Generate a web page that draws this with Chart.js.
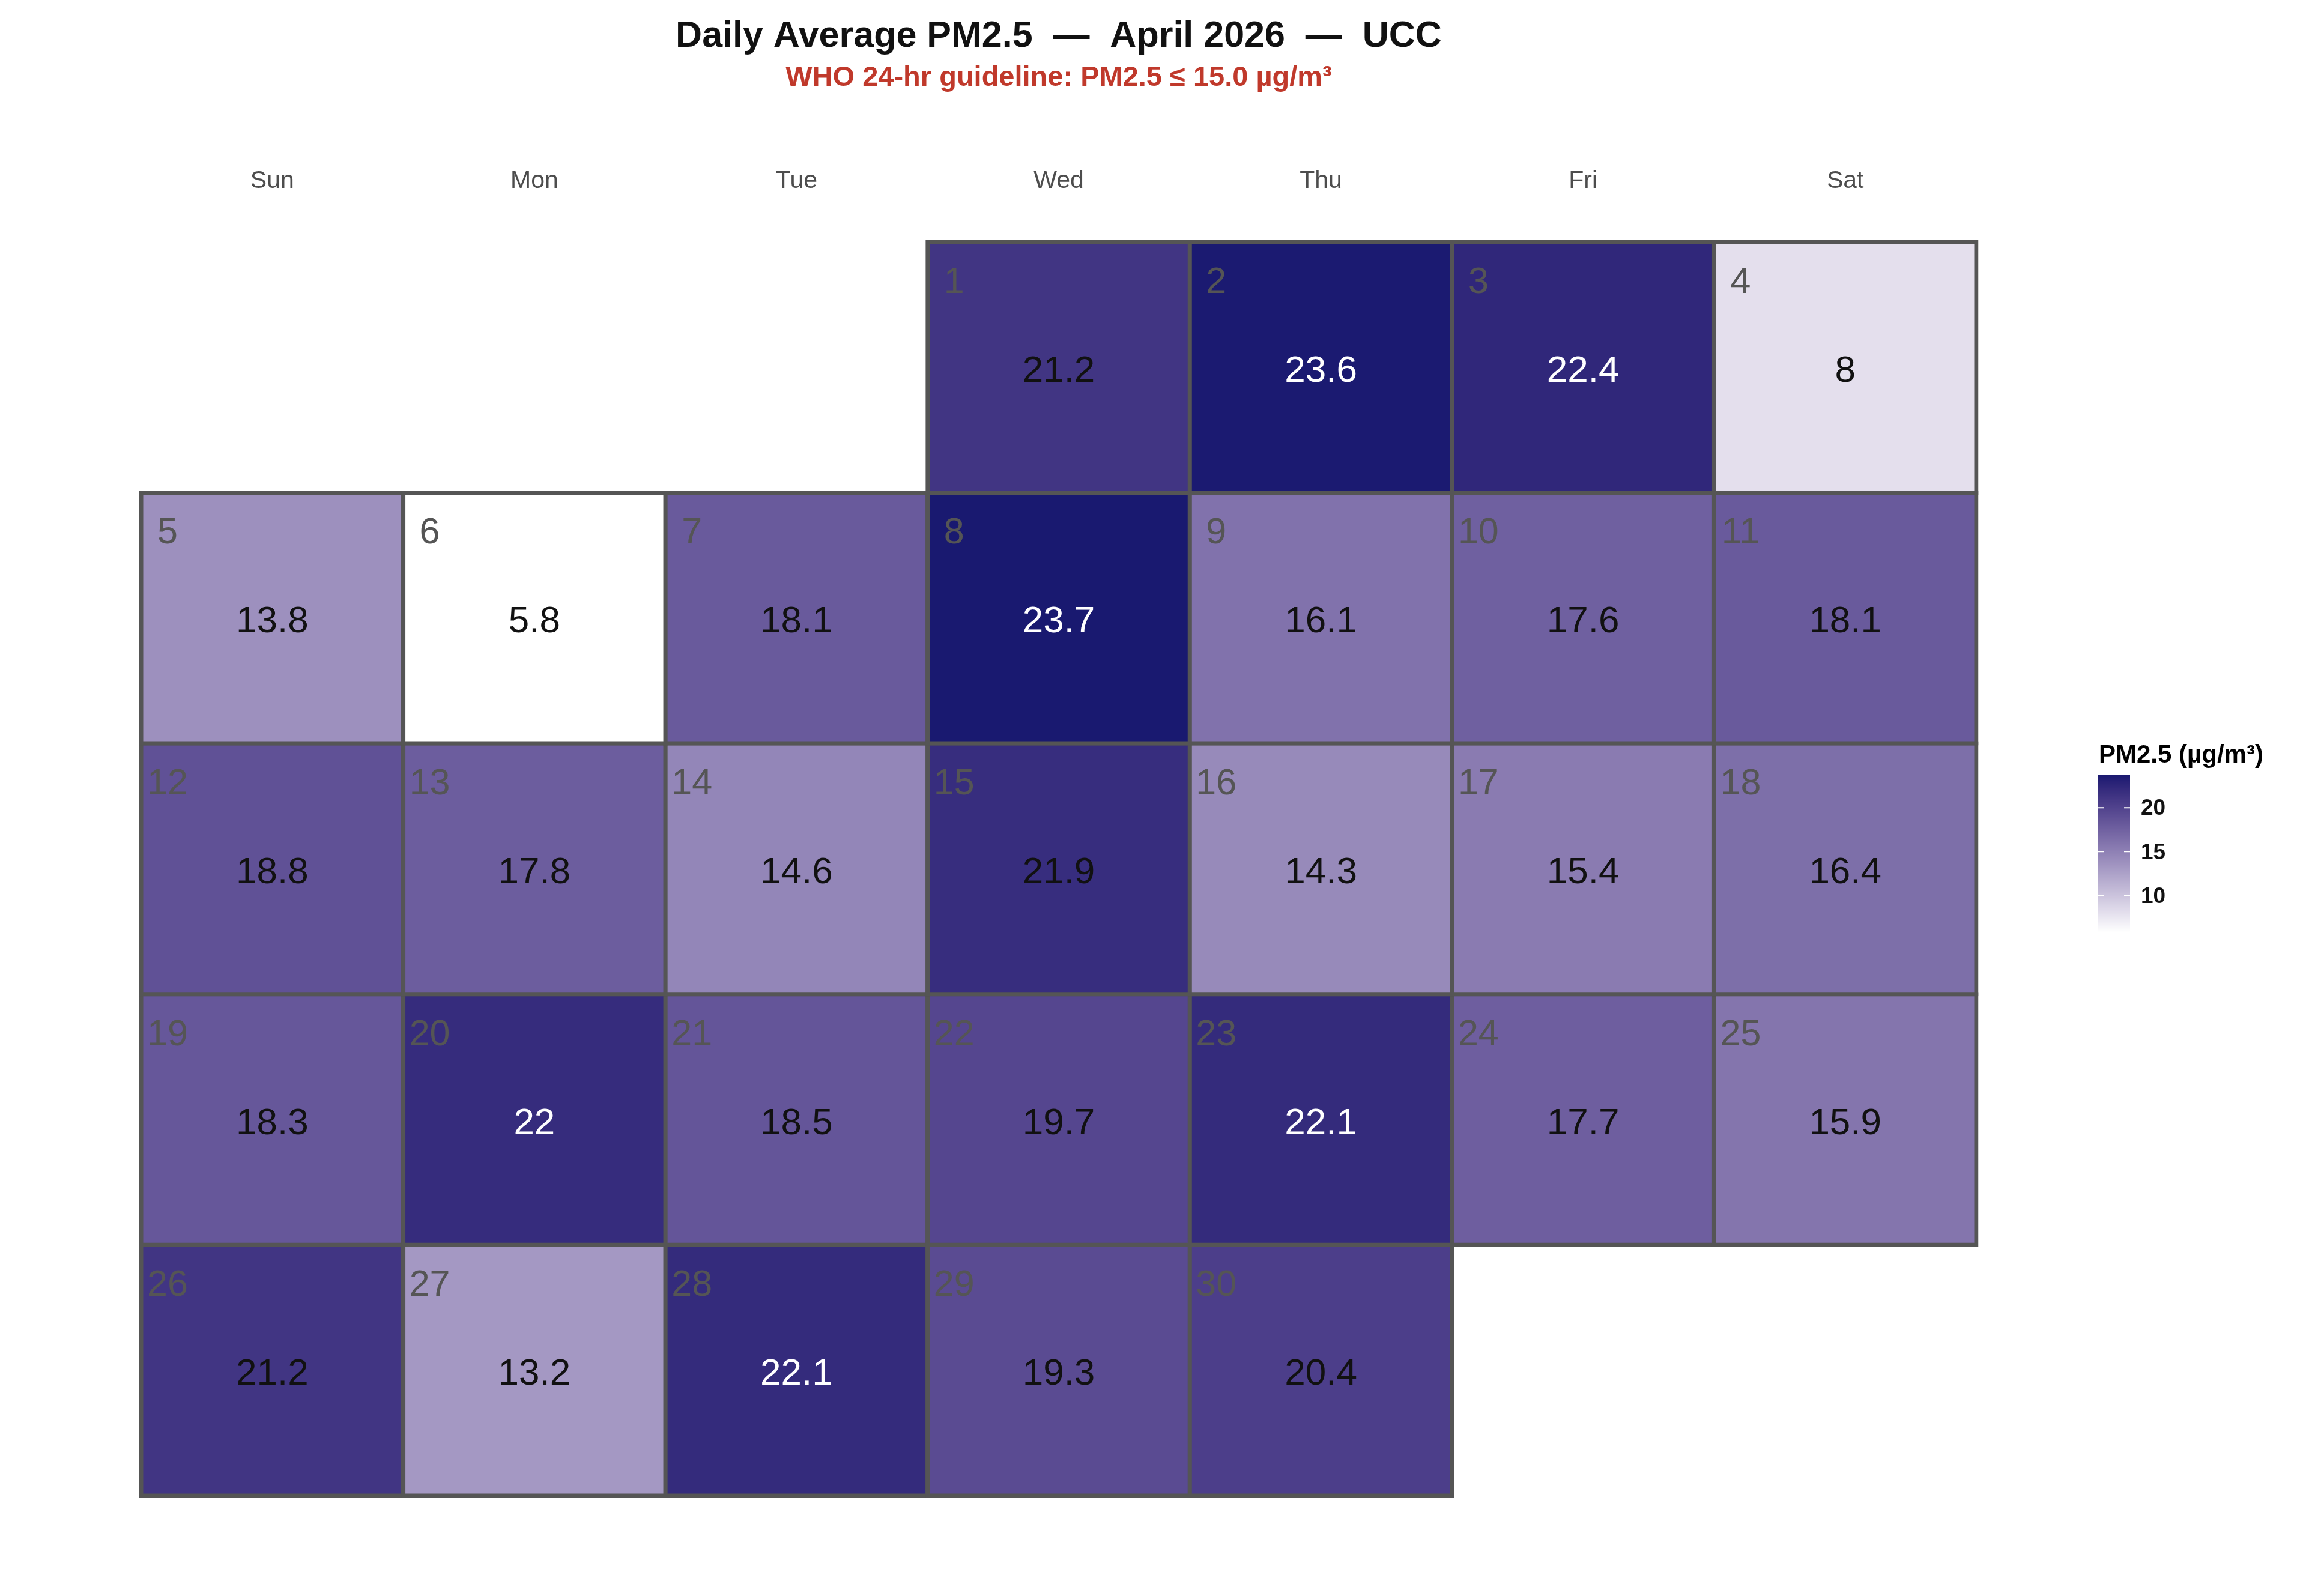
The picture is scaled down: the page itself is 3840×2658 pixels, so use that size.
<!DOCTYPE html>
<html>
<head>
<meta charset="utf-8">
<title>Daily Average PM2.5 - April 2026 - UCC</title>
<script src="https://cdn.jsdelivr.net/npm/chart.js@4.4.1/dist/chart.umd.min.js"></script>
<style>
  html, body { margin: 0; padding: 0; background: #ffffff; }
  canvas { display: block; }
</style>
</head>
<body>
<canvas id="calendar" width="3840" height="2658" style="width:3840px;height:2658px"></canvas>
<script>
// ---- data ----
const weekdays = ['Sun', 'Mon', 'Tue', 'Wed', 'Thu', 'Fri', 'Sat'];
const days = [1, 2, 3, 4, 5, 6, 7, 8, 9, 10, 11, 12, 13, 14, 15,
              16, 17, 18, 19, 20, 21, 22, 23, 24, 25, 26, 27, 28, 29, 30];
const pm25 = [21.2, 23.6, 22.4, 8, 13.8, 5.8, 18.1, 23.7, 16.1, 17.6,
              18.1, 18.8, 17.8, 14.6, 21.9, 14.3, 15.4, 16.4, 18.3, 22,
              18.5, 19.7, 22.1, 17.7, 15.9, 21.2, 13.2, 22.1, 19.3, 20.4];
const legendTicks = [10, 15, 20];

const year = 2026;
const month = 3; // April (0-based)
const firstWeekday = new Date(year, month, 1).getDay();

const lowColor = '#ffffff';
const highColor = '#191970';
const minVal = Math.min(...pm25);
const maxVal = Math.max(...pm25);

Chart.defaults.font.family = "'Liberation Sans', Arial, Helvetica, sans-serif";

// ---- colour scale: white -> midnightblue, interpolated in Lab ----
function hexToRgb(hex) {
  const n = parseInt(hex.slice(1), 16);
  return [(n >> 16) & 255, (n >> 8) & 255, n & 255];
}

function toLab(rgb) {
  const lin = rgb.map(c => {
    c /= 255;
    return c <= 0.04045 ? c / 12.92 : Math.pow((c + 0.055) / 1.055, 2.4);
  });
  const X = (0.4124564 * lin[0] + 0.3575761 * lin[1] + 0.1804375 * lin[2]) / 0.95047;
  const Y = 0.2126729 * lin[0] + 0.7151522 * lin[1] + 0.0721750 * lin[2];
  const Z = (0.0193339 * lin[0] + 0.1191920 * lin[1] + 0.9503041 * lin[2]) / 1.08883;
  const f = t => t > 0.008856 ? Math.cbrt(t) : 7.787 * t + 16 / 116;
  const fx = f(X), fy = f(Y), fz = f(Z);
  return [116 * fy - 16, 500 * (fx - fy), 200 * (fy - fz)];
}

function fromLab(lab) {
  const fy = (lab[0] + 16) / 116;
  const fx = fy + lab[1] / 500;
  const fz = fy - lab[2] / 200;
  const inv = t => t * t * t > 0.008856 ? t * t * t : (t - 16 / 116) / 7.787;
  const X = inv(fx) * 0.95047, Y = inv(fy), Z = inv(fz) * 1.08883;
  const lin = [
    3.2404542 * X - 1.5371385 * Y - 0.4985314 * Z,
    -0.9692660 * X + 1.8760108 * Y + 0.0415560 * Z,
    0.0556434 * X - 0.2040259 * Y + 1.0572252 * Z
  ];
  const rgb = lin.map(c => {
    c = Math.max(0, Math.min(1, c));
    const s = c <= 0.0031308 ? 12.92 * c : 1.055 * Math.pow(c, 1 / 2.4) - 0.055;
    return Math.round(s * 255);
  });
  return 'rgb(' + rgb.join(',') + ')';
}

const labLow = toLab(hexToRgb(lowColor));
const labHigh = toLab(hexToRgb(highColor));

function fillFor(v) {
  const t = Math.max(0, Math.min(1, (v - minVal) / (maxVal - minVal)));
  return fromLab(labLow.map((c, i) => c + (labHigh[i] - c) * t));
}

// ---- one floating-bar dataset per calendar week ----
const nWeeks = Math.ceil((firstWeekday + days.length) / 7);
const datasets = [];
for (let w = 0; w < nWeeks; w++) {
  datasets.push({
    label: 'week ' + (w + 1),
    data: new Array(7).fill(null),
    backgroundColor: new Array(7).fill('rgba(0,0,0,0)'),
    dayNums: new Array(7).fill(null),
    pmVals: new Array(7).fill(null)
  });
}
days.forEach((d, i) => {
  const idx = firstWeekday + d - 1;
  const week = Math.floor(idx / 7);
  const col = idx % 7;
  const row = week + 1;
  datasets[week].data[col] = [row - 0.5, row + 0.5];
  datasets[week].backgroundColor[col] = fillFor(pm25[i]);
  datasets[week].dayNums[col] = d;
  datasets[week].pmVals[col] = pm25[i];
});

// ---- day number + value inside each tile ----
const cellText = {
  id: 'cellText',
  afterDatasetsDraw(chart) {
    const ctx = chart.ctx;
    ctx.save();
    chart.data.datasets.forEach((ds, di) => {
      const meta = chart.getDatasetMeta(di);
      meta.data.forEach((bar, i) => {
        if (ds.data[i] === null) return;
        const p = bar.getProps(['x', 'y', 'base', 'width'], true);
        const left = p.x - p.width / 2;
        const top = Math.min(p.y, p.base);
        const h = Math.abs(p.base - p.y);

        ctx.textAlign = 'center';
        ctx.textBaseline = 'alphabetic';

        ctx.font = "61px 'Liberation Sans', Arial, sans-serif";
        ctx.fillStyle = '#555555';
        ctx.fillText(String(ds.dayNums[i]), left + 44, top + 85);

        const v = ds.pmVals[i];
        ctx.font = "62px 'Liberation Sans', Arial, sans-serif";
        ctx.fillStyle = v >= 22 ? '#ffffff' : '#111111';
        ctx.fillText(String(v), p.x, top + h / 2 + 24);
      });
    });
    ctx.restore();
  }
};

// ---- colour bar guide ----
const colourBar = {
  id: 'colourBar',
  afterDraw(chart) {
    const ctx = chart.ctx;
    const x0 = 3494, w = 53, y0 = 1291, h = 262;
    const yFor = v => y0 + (maxVal - v) / (maxVal - minVal) * h;
    ctx.save();

    ctx.font = "bold 42px 'Liberation Sans', Arial, sans-serif";
    ctx.fillStyle = '#000000';
    ctx.textAlign = 'left';
    ctx.textBaseline = 'alphabetic';
    ctx.fillText('PM2.5 (µg/m³)', 3495, 1270);

    for (let k = 0; k < h; k++) {
      const v = maxVal - (k + 0.5) / h * (maxVal - minVal);
      ctx.fillStyle = fillFor(v);
      ctx.fillRect(x0, y0 + k, w, 1.2);
    }

    ctx.strokeStyle = '#ffffff';
    ctx.lineWidth = 2;
    ctx.font = "bold 37px 'Liberation Sans', Arial, sans-serif";
    ctx.fillStyle = '#111111';
    ctx.textBaseline = 'middle';
    legendTicks.forEach(t => {
      const y = yFor(t);
      ctx.beginPath();
      ctx.moveTo(x0, y); ctx.lineTo(x0 + 10, y);
      ctx.moveTo(x0 + w - 10, y); ctx.lineTo(x0 + w, y);
      ctx.stroke();
      ctx.fillText(String(t), 3565, y + 2);
    });
    ctx.restore();
  }
};

new Chart(document.getElementById('calendar'), {
  type: 'bar',
  data: { labels: weekdays, datasets: datasets },
  options: {
    responsive: false,
    devicePixelRatio: 1,
    animation: false,
    layout: { padding: { left: 235, right: 549, top: 0, bottom: 167 } },
    datasets: {
      bar: {
        grouped: false,
        barPercentage: 1,
        categoryPercentage: 1,
        borderWidth: 7,
        borderColor: '#555555',
        borderSkipped: false,
        inflateAmount: 3.5,
        clip: false
      }
    },
    scales: {
      x: {
        type: 'category',
        position: 'top',
        offset: true,
        grid: { display: false, drawTicks: false },
        border: { display: false },
        ticks: { color: '#4d4d4d', font: { size: 41 }, padding: 77 }
      },
      y: {
        type: 'linear',
        min: 0.5,
        max: 5.5,
        reverse: true,
        display: false
      }
    },
    plugins: {
      legend: { display: false },
      tooltip: { enabled: false },
      title: {
        display: true,
        fullSize: false,
        // non-breaking spaces so the double gaps round the dashes survive
        text: 'Daily Average PM2.5\u00a0\u00a0\u2014\u00a0\u00a0April 2026\u00a0\u00a0\u2014\u00a0\u00a0UCC',
        color: '#111111',
        font: { size: 61, weight: 'bold' },
        padding: { top: 25, bottom: 0 }
      },
      subtitle: {
        display: true,
        fullSize: false,
        text: 'WHO 24-hr guideline: PM2.5 \u2264 15.0 \u00b5g/m\u00b3',
        color: '#c0392b',
        font: { size: 47, weight: 'bold' },
        padding: { top: 4, bottom: 41 }
      }
    }
  },
  plugins: [cellText, colourBar]
});
</script>
</body>
</html>
